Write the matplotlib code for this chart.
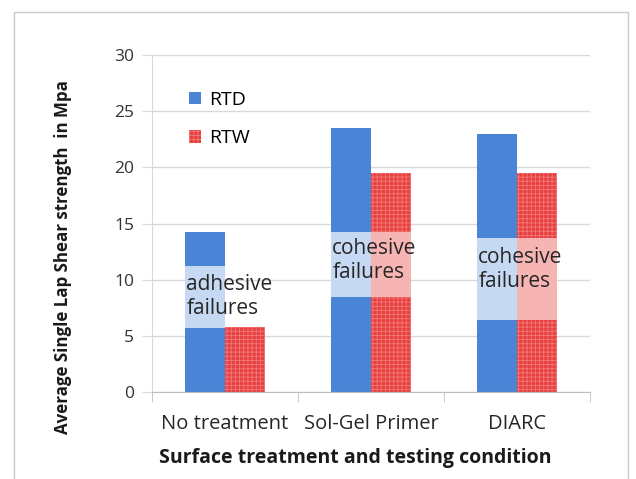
import matplotlib

matplotlib.use("Agg")
import matplotlib.pyplot as plt
import numpy as np
from matplotlib.patches import Rectangle

categories = ["No treatment", "Sol-Gel Primer", "DIARC"]
rtd = [14.2, 23.5, 23.0]
rtw = [5.8, 19.5, 19.5]

# light bands marking where the failure-mode note sits (low, high); None = no band
rtd_band = [(5.7, 11.2), (8.5, 14.2), (6.4, 13.7)]
rtw_band = [None, (8.5, 14.2), (6.4, 13.7)]

notes = ["adhesive\nfailures", "cohesive\nfailures", "cohesive\nfailures"]
note_y = [8.5, 11.7, 10.9]

plt.rcParams["font.family"] = ["Open Sans", "DejaVu Sans"]
plt.rcParams["hatch.linewidth"] = 0.6

BLUE = "#4a84d6"
RED = "#e8403f"
LIGHT_BLUE = "#c6d9f2"
LIGHT_RED = "#f6b4b3"
GRID = "#d9d9d9"

fig = plt.figure(figsize=(6.36, 4.79), dpi=100)
fig.patches.append(Rectangle((14 / 636, -0.05), 614 / 636, 1 - 12 / 479 + 0.05,
                             transform=fig.transFigure, fill=False,
                             edgecolor="#c8c8c8", linewidth=1.0))
ax = fig.add_axes([152 / 636, 1 - 392 / 479, 438 / 636, 337 / 479])

x = np.arange(len(categories))
w = 0.275

ax.bar(x - w / 2, rtd, w, color=BLUE, linewidth=0, label="RTD", zorder=2)
ax.bar(x + w / 2, rtw, w, color=RED, edgecolor="#f27878", hatch="++++",
       linewidth=0, label="RTW", zorder=2)

for i in range(len(categories)):
    if rtd_band[i]:
        lo, hi = rtd_band[i]
        ax.bar(x[i] - w / 2, hi - lo, w, bottom=lo, color=LIGHT_BLUE, linewidth=0, zorder=3)
    if rtw_band[i]:
        lo, hi = rtw_band[i]
        ax.bar(x[i] + w / 2, hi - lo, w, bottom=lo, color=LIGHT_RED, linewidth=0, zorder=3)
    ax.text(x[i] - w + 0.01, note_y[i], notes[i], fontsize=15, color="#262626",
            va="center", ha="left", linespacing=1.2, zorder=4)

ax.set_ylim(0, 30)
ax.set_yticks(range(0, 31, 5))
ax.set_xlim(-0.5, len(categories) - 0.5)
ax.set_xticks(x)
ax.set_xticklabels(categories, fontsize=14.5, color="#262626")
ax.set_xticks(np.arange(-0.5, len(categories)), minor=True)
ax.tick_params(axis="x", which="major", length=0, pad=16)
ax.tick_params(axis="x", which="minor", length=7, color="#bfbfbf")
ax.tick_params(axis="y", length=7, color=GRID, labelsize=12.5, pad=6,
               labelcolor="#333333")
ax.grid(axis="y", color=GRID, linewidth=1.0, zorder=0)
ax.set_axisbelow(True)
for side in ["top", "right"]:
    ax.spines[side].set_visible(False)
ax.spines["left"].set_color(GRID)
ax.spines["bottom"].set_color("#bfbfbf")

ax.set_ylabel("Average Single Lap Shear strength  in Mpa", fontsize=12.2,
              fontweight="bold", color="#1a1a1a")
ax.yaxis.set_label_coords(-0.183, 0.40)
ax.set_xlabel("Surface treatment and testing condition", fontsize=14,
              fontweight="bold", color="#1a1a1a")
ax.xaxis.set_label_coords(0.463, -0.165)

ax.legend(loc="upper left", bbox_to_anchor=(0.045, 0.945), frameon=False,
          fontsize=14, handlelength=0.6, handleheight=0.6, handletextpad=0.4,
          labelspacing=1.05)

fig.savefig("out.png", dpi=100)
